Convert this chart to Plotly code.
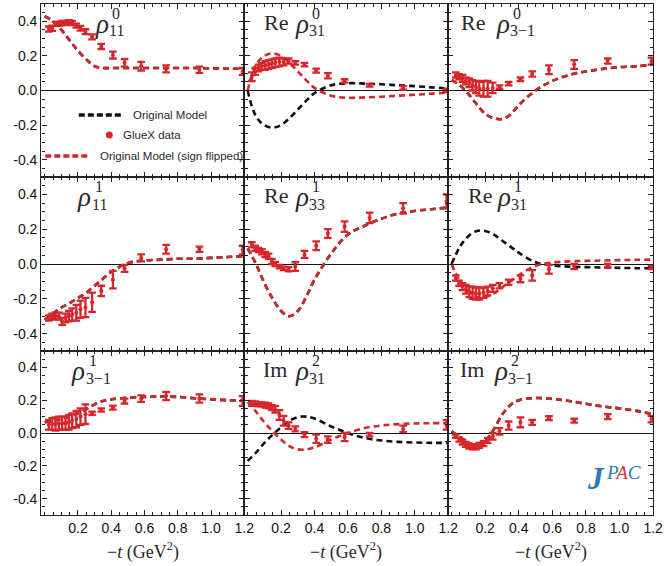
import plotly.graph_objects as go
from plotly.subplots import make_subplots

# ---------------- data ----------------
t_data = [0.025, 0.045, 0.065, 0.085, 0.105, 0.125, 0.145, 0.165, 0.19, 0.215,
          0.245, 0.285, 0.34, 0.41, 0.48, 0.58, 0.73, 0.93, 1.19]
t_model = [0.0, 0.05, 0.1, 0.15, 0.2, 0.25, 0.3, 0.35, 0.4, 0.5, 0.6, 0.7, 0.8,
           0.9, 1.0, 1.1, 1.2]

# GlueX data (value, error)
rho0_11 = [0.355, 0.36, 0.385, 0.385, 0.39, 0.39, 0.395, 0.39, 0.375, 0.36, 0.34, 0.31, 0.255, 0.205, 0.16, 0.14, 0.125, 0.12, 0.11]
rho0_11_err = [0.015, 0.015, 0.012, 0.012, 0.012, 0.012, 0.012, 0.012, 0.012, 0.014, 0.014, 0.014, 0.015, 0.02, 0.022, 0.025, 0.02, 0.018, 0.02]
re_rho0_31 = [0.08, 0.11, 0.13, 0.14, 0.145, 0.15, 0.155, 0.16, 0.165, 0.165, 0.17, 0.16, 0.15, 0.115, 0.085, 0.055, 0.03, 0.015, 0.0]
re_rho0_31_err = [0.025, 0.02, 0.02, 0.02, 0.025, 0.025, 0.025, 0.025, 0.025, 0.02, 0.015, 0.01, 0.01, 0.012, 0.015, 0.01, 0.008, 0.01, 0.01]
re_rho0_3m1 = [0.09, 0.08, 0.07, 0.055, 0.045, 0.03, 0.02, 0.01, 0.01, 0.01, 0.015, 0.02, 0.04, 0.065, 0.095, 0.12, 0.15, 0.17, 0.17]
re_rho0_3m1_err = [0.015, 0.015, 0.02, 0.02, 0.025, 0.03, 0.035, 0.04, 0.045, 0.045, 0.03, 0.01, 0.01, 0.01, 0.015, 0.025, 0.025, 0.015, 0.02]
rho1_11 = [-0.31, -0.30, -0.30, -0.30, -0.33, -0.31, -0.30, -0.29, -0.28, -0.26, -0.25, -0.22, -0.155, -0.09, -0.025, 0.035, 0.085, 0.085, 0.08]
rho1_11_err = [0.015, 0.015, 0.02, 0.02, 0.02, 0.025, 0.03, 0.035, 0.045, 0.05, 0.055, 0.055, 0.03, 0.05, 0.02, 0.02, 0.025, 0.015, 0.025]
re_rho1_33 = [0.11, 0.09, 0.08, 0.07, 0.055, 0.045, 0.015, 0.0, -0.015, -0.025, -0.03, -0.015, 0.055, 0.105, 0.175, 0.215, 0.265, 0.32, 0.36]
re_rho1_33_err = [0.015, 0.015, 0.012, 0.015, 0.015, 0.015, 0.015, 0.012, 0.01, 0.01, 0.012, 0.025, 0.02, 0.025, 0.025, 0.03, 0.03, 0.03, 0.04]
re_rho1_31 = [-0.08, -0.11, -0.13, -0.145, -0.16, -0.165, -0.17, -0.17, -0.165, -0.155, -0.14, -0.125, -0.105, -0.085, -0.065, -0.03, -0.015, -0.01, -0.02]
re_rho1_31_err = [0.015, 0.015, 0.02, 0.025, 0.03, 0.035, 0.035, 0.035, 0.03, 0.025, 0.02, 0.015, 0.015, 0.02, 0.03, 0.025, 0.015, 0.01, 0.01]
rho1_3m1 = [0.05, 0.055, 0.055, 0.06, 0.06, 0.06, 0.065, 0.075, 0.085, 0.1, 0.115, 0.12, 0.14, 0.155, 0.195, 0.21, 0.225, 0.21, 0.195]
rho1_3m1_err = [0.03, 0.035, 0.04, 0.04, 0.04, 0.04, 0.045, 0.045, 0.05, 0.05, 0.06, 0.01, 0.01, 0.012, 0.015, 0.02, 0.025, 0.025, 0.03]
im_rho2_31 = [0.18, 0.18, 0.175, 0.175, 0.17, 0.165, 0.155, 0.145, 0.11, 0.075, 0.045, 0.025, -0.01, -0.035, -0.04, -0.025, -0.01, 0.025, 0.05]
im_rho2_31_err = [0.015, 0.012, 0.012, 0.012, 0.015, 0.015, 0.015, 0.02, 0.03, 0.03, 0.02, 0.015, 0.015, 0.025, 0.02, 0.025, 0.01, 0.02, 0.03]
im_rho2_3m1 = [-0.02, -0.04, -0.055, -0.07, -0.08, -0.085, -0.085, -0.075, -0.065, -0.045, -0.02, 0.01, 0.045, 0.065, 0.065, 0.09, 0.075, 0.1, 0.085]
im_rho2_3m1_err = [0.01, 0.012, 0.015, 0.015, 0.015, 0.015, 0.015, 0.015, 0.015, 0.015, 0.02, 0.02, 0.025, 0.03, 0.015, 0.012, 0.012, 0.015, 0.02]

# Models: original (black) and sign flipped (red)
m_rho0_11 = [0.43, 0.40, 0.35, 0.29, 0.23, 0.18, 0.14, 0.13, 0.13, 0.13, 0.13, 0.13, 0.13, 0.13, 0.128, 0.126, 0.125]
m_re_rho0_31 = [0.0, -0.15, -0.2, -0.215, -0.2, -0.16, -0.11, -0.06, -0.015, 0.03, 0.042, 0.04, 0.036, 0.03, 0.025, 0.018, 0.012]
f_re_rho0_31 = [0.0, 0.15, 0.2, 0.215, 0.2, 0.16, 0.11, 0.06, 0.015, -0.03, -0.042, -0.04, -0.036, -0.03, -0.025, -0.018, -0.012]
m_re_rho0_3m1 = [0.06, 0.03, -0.02, -0.08, -0.135, -0.16, -0.165, -0.14, -0.085, 0.0, 0.055, 0.09, 0.11, 0.125, 0.135, 0.14, 0.15]
m_rho1_11 = [-0.32, -0.285, -0.25, -0.225, -0.195, -0.165, -0.125, -0.085, -0.045, 0.005, 0.02, 0.025, 0.03, 0.03, 0.035, 0.04, 0.045]
m_re_rho1_33 = [0.09, 0.0, -0.11, -0.2, -0.27, -0.3, -0.27, -0.19, -0.09, 0.06, 0.17, 0.22, 0.26, 0.29, 0.305, 0.315, 0.325]
m_re_rho1_31 = [0.0, 0.1, 0.16, 0.19, 0.19, 0.17, 0.135, 0.1, 0.065, 0.01, -0.008, -0.015, -0.018, -0.02, -0.022, -0.024, -0.025]
f_re_rho1_31 = [0.0, -0.1, -0.16, -0.19, -0.19, -0.17, -0.135, -0.1, -0.065, -0.01, 0.008, 0.015, 0.018, 0.02, 0.022, 0.024, 0.025]
m_rho1_3m1 = [0.065, 0.075, 0.085, 0.1, 0.12, 0.145, 0.175, 0.195, 0.205, 0.215, 0.22, 0.222, 0.22, 0.212, 0.205, 0.2, 0.195]
m_im_rho2_31 = [-0.17, -0.12, -0.06, -0.01, 0.035, 0.075, 0.097, 0.1, 0.088, 0.04, 0.0, -0.03, -0.046, -0.054, -0.058, -0.06, -0.06]
f_im_rho2_31 = [0.19, 0.13, 0.065, 0.01, -0.04, -0.08, -0.1, -0.1, -0.088, -0.04, 0.0, 0.03, 0.046, 0.054, 0.058, 0.06, 0.06]
m_im_rho2_3m1 = [0.01, -0.025, -0.06, -0.075, -0.05, 0.02, 0.11, 0.17, 0.2, 0.213, 0.208, 0.195, 0.178, 0.162, 0.15, 0.135, 0.115]

y_ticks = [-0.4, -0.2, 0.0, 0.2, 0.4]
y_ticktext = ["-0.4", "-0.2", "0.0", "0.2", "0.4"]
x_ticks = [0.2, 0.4, 0.6, 0.8, 1.0, 1.2]
x_ticktext = ["0.2", "0.4", "0.6", "0.8", "1.0", "1.2"]

# panel: (data, err, original model, flipped model, prefix, sup, sub)
panels = [
    (rho0_11, rho0_11_err, m_rho0_11, m_rho0_11, "", "0", "11"),
    (re_rho0_31, re_rho0_31_err, m_re_rho0_31, f_re_rho0_31, "Re", "0", "31"),
    (re_rho0_3m1, re_rho0_3m1_err, m_re_rho0_3m1, m_re_rho0_3m1, "Re", "0", "3\u22121"),
    (rho1_11, rho1_11_err, m_rho1_11, m_rho1_11, "", "1", "11"),
    (re_rho1_33, re_rho1_33_err, m_re_rho1_33, m_re_rho1_33, "Re", "1", "33"),
    (re_rho1_31, re_rho1_31_err, m_re_rho1_31, f_re_rho1_31, "Re", "1", "31"),
    (rho1_3m1, rho1_3m1_err, m_rho1_3m1, m_rho1_3m1, "", "1", "3\u22121"),
    (im_rho2_31, im_rho2_31_err, m_im_rho2_31, f_im_rho2_31, "Im", "2", "31"),
    (im_rho2_3m1, im_rho2_3m1_err, m_im_rho2_3m1, m_im_rho2_3m1, "Im", "2", "3\u22121"),
]

# ---------------- style / layout ----------------
W, H = 671, 566
RED = "#d7262b"
RED_LINE = "#cc2a2c"
BLACK = "#111111"
BLUE = "#2a78b6"
TXT = "#2a2a2a"
SERIF = "Liberation Serif, DejaVu Serif, serif"
SANS = "Liberation Sans, Arial, sans-serif"

col_px = [(42, 248), (248, 455), (455, 663)]
row_px = [(4, 177), (177, 351), (351, 515)]

def px(x):
    return x / W

def py(y):
    return 1 - y / H

fig = make_subplots(rows=3, cols=3, horizontal_spacing=0, vertical_spacing=0)

for i, (yv, ev, mo, mf, pre, sup, sub) in enumerate(panels):
    r, c = i // 3 + 1, i % 3 + 1
    fig.add_trace(go.Scatter(x=t_model, y=mo, mode="lines", line_shape="spline",
                             line=dict(color=BLACK, width=2.6, dash="6px,4px"),
                             showlegend=False, hoverinfo="skip"), row=r, col=c)
    fig.add_trace(go.Scatter(x=t_model, y=mf, mode="lines", line_shape="spline",
                             line=dict(color=RED_LINE, width=2.6, dash="6px,4px"),
                             showlegend=False, hoverinfo="skip"), row=r, col=c)
    fig.add_trace(go.Scatter(x=t_data, y=yv, mode="markers",
                             marker=dict(color=RED, size=4),
                             error_y=dict(type="data", array=ev, color=RED,
                                          thickness=2.3, width=3.8),
                             showlegend=False), row=r, col=c)

annotations = []
layout_upd = {}
for i in range(9):
    r, c = i // 3, i % 3
    idx = "" if i == 0 else str(i + 1)
    x0, x1 = col_px[c]
    y0, y1 = row_px[r]
    layout_upd["xaxis" + idx] = dict(
        domain=[px(x0), px(x1)], range=[-0.02, 1.2],
        showline=True, linecolor="#222", linewidth=1.4, mirror="allticks",
        ticks="inside", ticklen=5, tickwidth=1.2, tickcolor="#222",
        tickmode="array", tickvals=x_ticks, ticktext=x_ticktext,
        showticklabels=(r == 2), tickfont=dict(family=SANS, size=14, color="#111"),
        minor=dict(ticks="inside", ticklen=3, tickcolor="#222", tickmode="linear",
                   tick0=0, dtick=0.05, showgrid=False),
        showgrid=False, zeroline=False)
    layout_upd["yaxis" + idx] = dict(
        domain=[py(y1), py(y0)], range=[-0.5, 0.5],
        showline=True, linecolor="#222", linewidth=1.4, mirror="allticks",
        ticks="inside", ticklen=5, tickwidth=1.2, tickcolor="#222",
        tickmode="array", tickvals=y_ticks, ticktext=y_ticktext,
        showticklabels=(c == 0), tickfont=dict(family=SANS, size=14, color="#111"),
        minor=dict(ticks="inside", ticklen=3, tickcolor="#222", tickmode="linear",
                   tick0=0, dtick=0.05, showgrid=False),
        showgrid=False, zeroline=True, zerolinecolor="#111", zerolinewidth=1.2)

# panel labels
label_pos = [  # (prefix_left, rho_left)
    (None, 94), (266, 297), (466, 501),
    (None, 76), (266, 297), (473, 502),
    (None, 70), (265, 297), (465, 499),
]
for i, (yv, ev, mo, mf, pre, sup, sub) in enumerate(panels):
    r = i // 3
    top = row_px[r][0]
    pl, rl = label_pos[i]
    if pre:
        annotations.append(dict(text=pre, x=px(pl), y=py(top + 18), xref="paper", yref="paper",
                                xanchor="left", yanchor="middle", showarrow=False,
                                font=dict(family=SERIF, size=22, color=TXT)))
    annotations.append(dict(text="<i>\u03c1</i>", x=px(rl), y=py(top + 20), xref="paper", yref="paper",
                            xanchor="left", yanchor="middle", showarrow=False,
                            font=dict(family=SERIF, size=27, color=TXT)))
    annotations.append(dict(text=sup, x=px(rl + 18), y=py(top + 9), xref="paper", yref="paper",
                            xanchor="left", yanchor="middle", showarrow=False,
                            font=dict(family=SERIF, size=16, color=TXT)))
    annotations.append(dict(text=sub, x=px(rl + 15), y=py(top + 27), xref="paper", yref="paper",
                            xanchor="left", yanchor="middle", showarrow=False,
                            font=dict(family=SERIF, size=16, color=TXT)))

# x-axis titles
for c in range(3):
    x0, x1 = col_px[c]
    annotations.append(dict(text="\u2212<i>t</i> (GeV<sup>2</sup>)", x=px((x0 + x1) / 2), y=py(551),
                            xref="paper", yref="paper", xanchor="center", yanchor="middle",
                            showarrow=False, font=dict(family=SERIF, size=18, color=TXT)))

# legend (manual, inside first panel)
shapes = [
    dict(type="line", xref="paper", yref="paper", x0=px(80), x1=px(125), y0=py(115), y1=py(115),
         line=dict(color=BLACK, width=3.5, dash="6px,3px")),
    dict(type="circle", xref="paper", yref="paper", x0=px(107.5), x1=px(114.5),
         y0=py(138.5), y1=py(131.5), fillcolor=RED, line=dict(color=RED, width=0)),
    dict(type="line", xref="paper", yref="paper", x0=px(46), x1=px(90), y0=py(156), y1=py(156),
         line=dict(color=RED_LINE, width=3.5, dash="6px,3px")),
]
for txt, xl, yc in [("Original Model", 133, 115), ("GlueX data", 123, 135),
                    ("Original Model (sign flipped)", 99, 156)]:
    annotations.append(dict(text=txt, x=px(xl), y=py(yc), xref="paper", yref="paper",
                            xanchor="left", yanchor="middle", showarrow=False,
                            font=dict(family=SANS, size=11.5, color=TXT)))

# JPAC logo
annotations.append(dict(text="<b><i>J</i></b>", x=px(605), y=py(478), xref="paper", yref="paper",
                        xanchor="center", yanchor="middle", showarrow=False,
                        font=dict(family=SERIF, size=31, color=BLUE)))
annotations.append(dict(text="<i><span style='color:%s'>P</span><span style='color:%s'>A</span>"
                             "<span style='color:%s'>C</span></i>" % (BLUE, "#e0303a", BLUE),
                        x=px(613), y=py(472), xref="paper", yref="paper",
                        xanchor="left", yanchor="middle", showarrow=False,
                        font=dict(family=SERIF, size=19, color=BLUE)))

fig.update_layout(width=W, height=H, margin=dict(l=0, r=0, t=0, b=0),
                  paper_bgcolor="white", plot_bgcolor="white",
                  annotations=annotations, shapes=shapes, showlegend=False,
                  **layout_upd)

fig.write_html("out.html")
